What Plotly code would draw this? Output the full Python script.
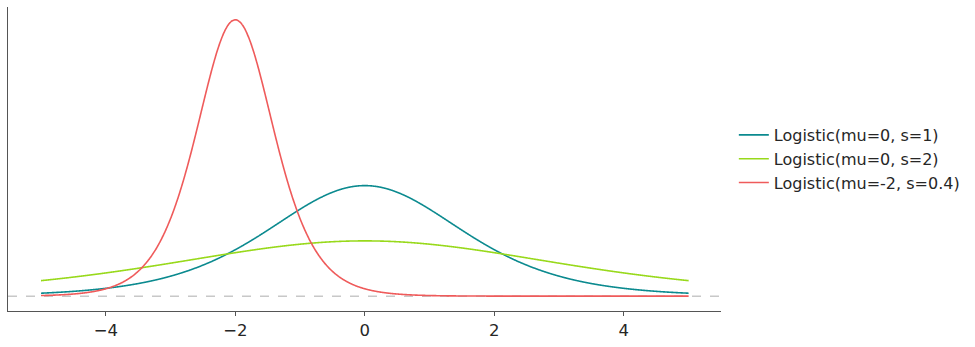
import numpy as np
import plotly.graph_objects as go

# Distribution parameters (from legend)
names = ["Logistic(mu=0, s=1)", "Logistic(mu=0, s=2)", "Logistic(mu=-2, s=0.4)"]
mus = [0.0, 0.0, -2.0]
scales = [1.0, 2.0, 0.4]
colors = ["#0b8a8f", "#98d91b", "#ef5b5b"]
x_lo, x_hi = -5.0, 5.0
tick_vals = [-4, -2, 0, 2, 4]
tick_text = ["\u22124", "\u22122", "0", "2", "4"]

x = np.linspace(x_lo, x_hi, 1000)
fig = go.Figure()
for name, mu, s, c in zip(names, mus, scales, colors):
    z = np.exp(-(x - mu) / s)
    pdf = z / (s * (1 + z) ** 2)
    fig.add_trace(go.Scatter(x=x, y=pdf, mode="lines", name=name,
                             line=dict(color=c, width=1.6, shape="spline")))

fig.add_shape(type="line", xref="paper", yref="y", x0=0, x1=1, y0=0, y1=0,
              line=dict(color="#c8c8c8", width=1.5, dash="dash"), layer="below")

fig.update_layout(
    width=975, height=347,
    margin=dict(l=8, r=254, t=7, b=32),
    plot_bgcolor="white", paper_bgcolor="white",
    font=dict(family="DejaVu Sans", size=16, color="#262626"),
    showlegend=True,
    legend=dict(x=1.018, y=0.5, xanchor="left", yanchor="middle",
                font=dict(size=16, color="#262626"), itemwidth=30,
                tracegroupgap=0, bgcolor="rgba(0,0,0,0)"),
    xaxis=dict(range=[-5.51, 5.5], tickvals=tick_vals, ticktext=tick_text,
               showgrid=False, zeroline=False, showline=True, linecolor="#555555",
               linewidth=1, ticks="outside", ticklen=4, tickcolor="#555555",
               tickfont=dict(size=16.5, color="#262626"), mirror=False),
    yaxis=dict(range=[-0.0336, 0.654], showticklabels=False, showgrid=False,
               zeroline=False, showline=True, linecolor="#555555", linewidth=1,
               ticks=""),
)
fig.write_html("out.html")
